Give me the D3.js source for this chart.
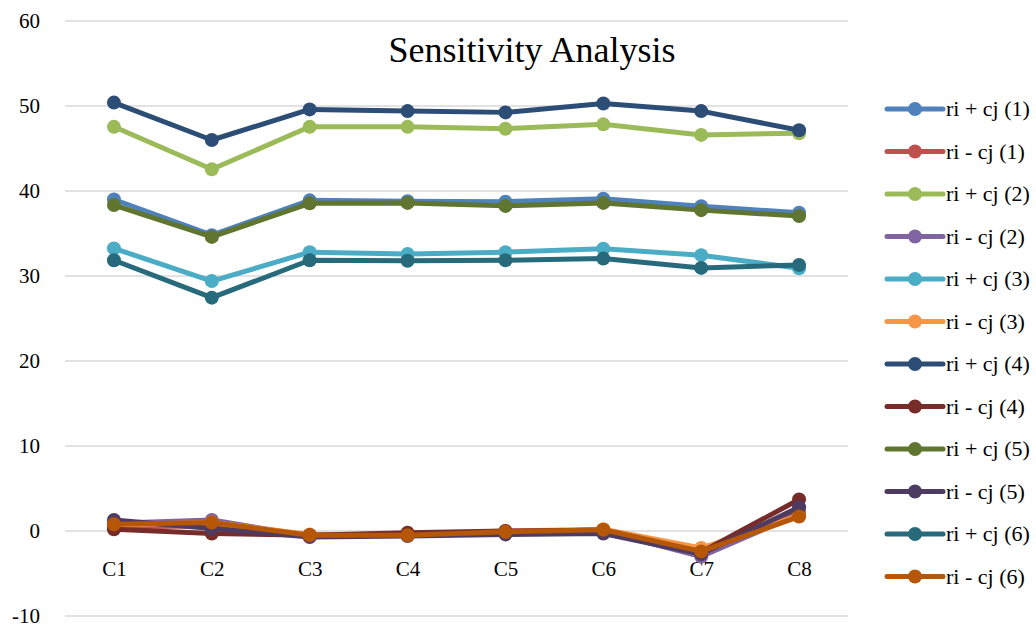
<!DOCTYPE html>
<html><head><meta charset="utf-8">
<script src="https://cdn.jsdelivr.net/npm/d3@7"></script>
<style>body{margin:0;background:#fff}svg{display:block}text{font-family:"Liberation Serif","Times New Roman",serif;fill:#000}</style>
</head><body>
<svg id="c" width="1036" height="628"></svg>
<script>
const categories = ["C1","C2","C3","C4","C5","C6","C7","C8"];
const yTicks = [-10,0,10,20,30,40,50,60];
const yTickLabels = ["-10","0","10","20","30","40","50","60"];
const seriesNames = ["ri + cj (1)","ri - cj (1)","ri + cj (2)","ri - cj (2)","ri + cj (3)","ri - cj (3)","ri + cj (4)","ri - cj (4)","ri + cj (5)","ri - cj (5)","ri + cj (6)","ri - cj (6)"];
const seriesColors = ["#4F81BD","#C0504D","#9BBB59","#8064A2","#4BACC6","#F79646","#2C4D75","#772C2A","#5F7530","#4D3B62","#276A7C","#B65708"];
const plus1  = [39.0, 34.8, 38.9, 38.8, 38.75, 39.1, 38.2, 37.45];
const minus1 = [0.5, 0.6, -0.5, -0.4, -0.1, 0.1, -2.4, 2.2];
const plus2  = [47.55, 42.55, 47.55, 47.55, 47.33, 47.84, 46.6, 46.8];
const minus2 = [0.9, 1.3, -0.6, -0.5, -0.2, 0.0, -3.0, 2.0];
const plus3  = [33.25, 29.4, 32.8, 32.6, 32.8, 33.2, 32.45, 30.9];
const minus3 = [0.7, 1.0, -0.4, -0.4, 0.0, 0.2, -2.0, 1.8];
const plus4  = [50.4, 46.0, 49.6, 49.4, 49.25, 50.3, 49.4, 47.15];
const minus4 = [0.2, -0.3, -0.5, -0.2, 0.0, 0.1, -2.5, 3.7];
const plus5  = [38.35, 34.6, 38.55, 38.6, 38.25, 38.6, 37.75, 37.05];
const minus5 = [1.3, 0.3, -0.7, -0.6, -0.4, -0.3, -2.7, 2.8];
const plus6  = [31.85, 27.45, 31.85, 31.8, 31.85, 32.05, 30.95, 31.3];
const minus6 = [0.8, 1.0, -0.5, -0.5, -0.1, 0.15, -2.4, 1.7];
const seriesValues = [plus1,minus1,plus2,minus2,plus3,minus3,plus4,minus4,plus5,minus5,plus6,minus6];

const svg = d3.select("#c");
const plotLeft = 65, plotRight = 848, plotTop = 21, plotBottom = 616;
const x = d3.scalePoint().domain(categories).range([plotLeft, plotRight]).padding(0.5);
const y = d3.scaleLinear().domain([-10, 60]).range([plotBottom, plotTop]);

// gridlines
svg.append("g").selectAll("line").data(yTicks).join("line")
  .attr("x1", plotLeft).attr("x2", plotRight)
  .attr("y1", d => y(d)).attr("y2", d => y(d))
  .attr("stroke", "#d9d9d9").attr("stroke-width", 1.5);

// y axis labels
const yAxis = d3.axisLeft(y).tickValues(yTicks).tickSize(0).tickPadding(0)
  .tickFormat((d, i) => yTickLabels[i]);
const ya = svg.append("g").attr("transform", `translate(40,0)`).call(yAxis);
ya.attr("font-family", null).attr("font-size", null);
ya.select(".domain").remove();
ya.selectAll("text").attr("font-size", 21).attr("fill", "#000");

// x axis labels
const xAxis = d3.axisBottom(x).tickSize(0).tickPadding(0);
const xa = svg.append("g").attr("transform", `translate(0,${y(-5) - 12})`).call(xAxis);
xa.attr("font-family", null).attr("font-size", null);
xa.select(".domain").remove();
xa.selectAll("text").attr("font-size", 21).attr("fill", "#000");

// title
svg.append("text").attr("x", 532).attr("y", 62).attr("text-anchor", "middle")
  .attr("font-size", 36).text("Sensitivity Analysis");

// series
const line = d3.line().x((d, i) => x(categories[i])).y(d => y(d));
seriesValues.forEach((vals, si) => {
  const g = svg.append("g");
  g.append("path").datum(vals).attr("d", line).attr("fill", "none")
    .attr("stroke", seriesColors[si]).attr("stroke-width", 5).attr("stroke-linejoin", "round");
  g.selectAll("circle").data(vals).join("circle")
    .attr("cx", (d, i) => x(categories[i])).attr("cy", d => y(d)).attr("r", 7)
    .attr("fill", seriesColors[si]);
});

// legend
const ly = d3.scaleLinear().domain([0, 11]).range([109, 576.5]);
const leg = svg.append("g");
seriesNames.forEach((name, i) => {
  const gy = ly(i);
  leg.append("line").attr("x1", 887).attr("x2", 943).attr("y1", gy).attr("y2", gy)
    .attr("stroke", seriesColors[i]).attr("stroke-width", 5).attr("stroke-linecap", "round");
  leg.append("circle").attr("cx", 915).attr("cy", gy).attr("r", 7).attr("fill", seriesColors[i]);
  leg.append("text").attr("x", 946).attr("y", gy + 7).attr("font-size", 22).text(name);
});
</script>
</body></html>
